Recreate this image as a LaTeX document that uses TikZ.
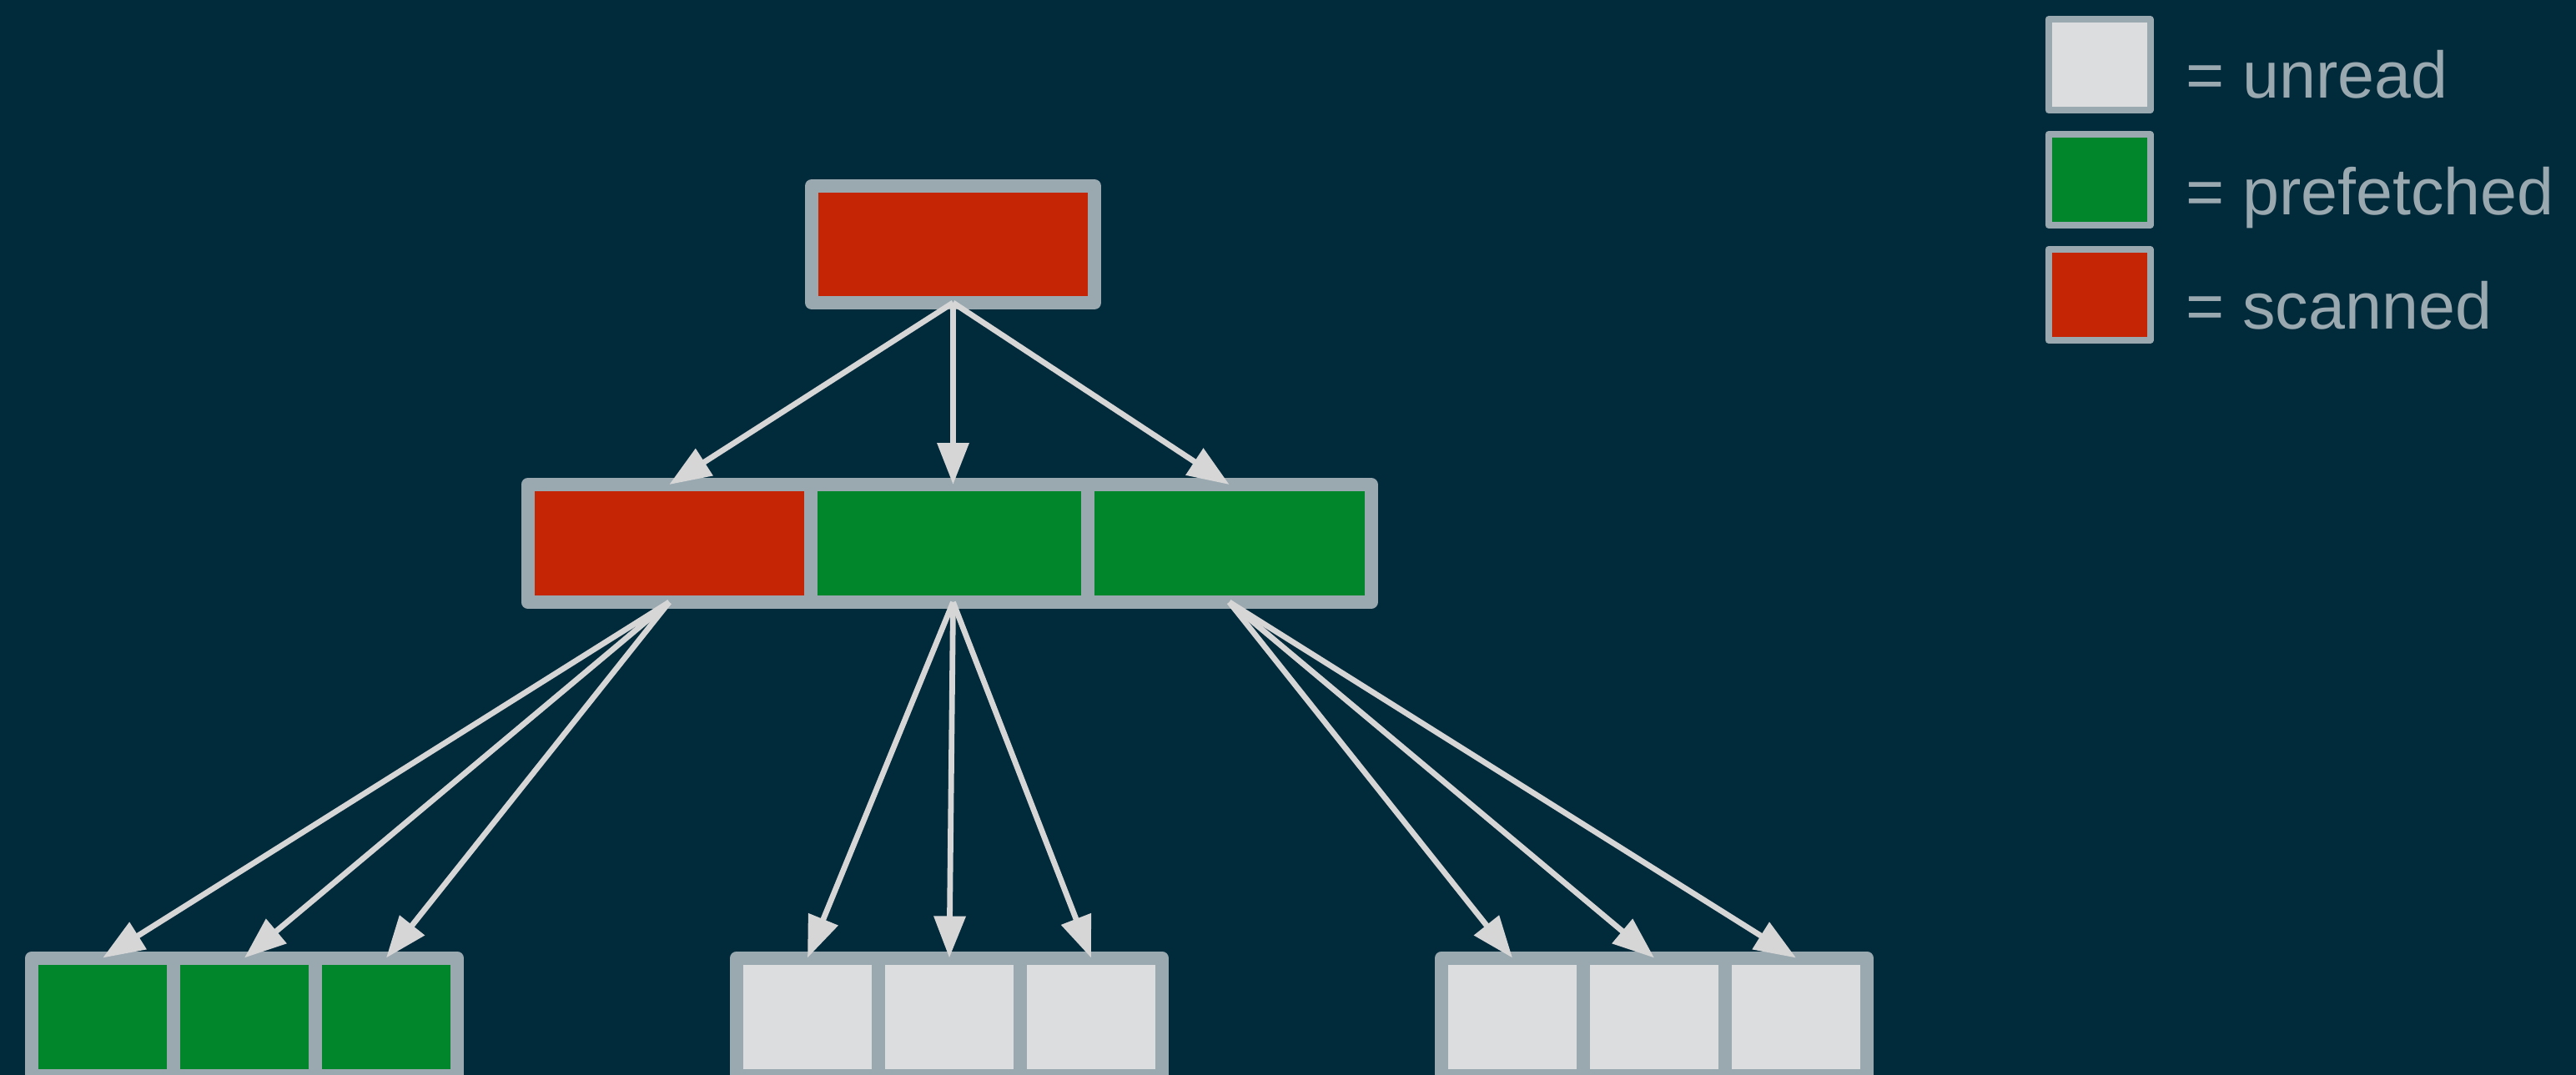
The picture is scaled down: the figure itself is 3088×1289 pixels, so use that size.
\documentclass[tikz,border=0pt]{standalone}
\usepackage{fontspec}
\setmainfont{Liberation Sans}
\usetikzlibrary{arrows.meta}

\definecolor{bg}{RGB}{1,42,59}
\definecolor{frame}{RGB}{154,169,176}
\definecolor{scanred}{RGB}{197,36,5}
\definecolor{prefgreen}{RGB}{2,134,43}
\definecolor{unreadgray}{RGB}{220,221,223}
\definecolor{arrowgray}{RGB}{214,214,214}
\definecolor{labelgray}{RGB}{154,168,175}

\begin{document}
\begin{tikzpicture}[x=0.5pt,y=-0.5pt,
  cell/.style={rectangle, draw=frame, line join=round, line width=8pt,
    inner sep=0pt, outer sep=0pt},
  rowcell/.style={cell, minimum width=170pt, minimum height=70.5pt},
  leafcell/.style={cell, minimum width=85pt, minimum height=70.5pt},
  keybox/.style={cell, line width=4pt, minimum width=61pt, minimum height=54.5pt},
  scanned/.style={fill=scanred},
  prefetched/.style={fill=prefgreen},
  unread/.style={fill=unreadgray},
  link/.style={draw=arrowgray, line width=3.4pt, -{Triangle[length=25pt,width=18.5pt]}},
  keytext/.style={anchor=base west, inner sep=0pt, text=labelgray,
    font=\fontsize{39.5pt}{47pt}\selectfont}
]
\useasboundingbox (0,0) rectangle (3088,1289);
\fill[bg] (0,0) rectangle (3088,1289);

% root block
\node[rowcell, scanned, minimum width=169.5pt, minimum height=70pt] (root) at (1142.5,293) {};

% second level: three entries
\node[rowcell, scanned, minimum width=169.75pt]    (m1) at (802.25,651.5) {};
\node[rowcell, prefetched, minimum width=165.75pt] (m2) at (1137.75,651.5) {};
\node[rowcell, prefetched, minimum width=170.1pt]  (m3) at (1473.6,651.5) {};

% leaf blocks
\node[leafcell, prefetched] (a1) at (123.2,1219) {};
\node[leafcell, prefetched] (a2) at (293,1219) {};
\node[leafcell, prefetched] (a3) at (463,1219) {};

\node[leafcell, unread] (b1) at (968,1219) {};
\node[leafcell, unread] (b2) at (1138,1219) {};
\node[leafcell, unread] (b3) at (1308,1219) {};

\node[leafcell, unread] (c1) at (1813,1219) {};
\node[leafcell, unread] (c2) at (1983,1219) {};
\node[leafcell, unread] (c3) at (2153,1219) {};

% pointers
\coordinate (m2in)  at (root.south |- m2.north);
\coordinate (m2out) at (root.south |- m2.south);
\draw[link] (root.south) -- (m1.north);
\draw[link] (root.south) -- (m2in);
\draw[link] (root.south) -- (m3.north);
\foreach \t in {a1,a2,a3} \draw[link] (m1.south) -- (\t.north);
\foreach \t in {b1,b2,b3} \draw[link] (m2out) -- (\t.north);
\foreach \t in {c1,c2,c3} \draw[link] (m3.south) -- (\t.north);

% legend
\node[keybox, unread]     (k1) at (2516.5,77.8) {};
\node[keybox, prefetched] (k2) at (2516.5,215.5) {};
\node[keybox, scanned]    (k3) at (2516.5,353.5) {};
\node[keytext] (t1) at (2620,118) {= unread};
\node[keytext] (t2) at (2620,257) {= prefetched};
\node[keytext] (t3) at (2620,394) {= scanned};
\end{tikzpicture}
\end{document}
